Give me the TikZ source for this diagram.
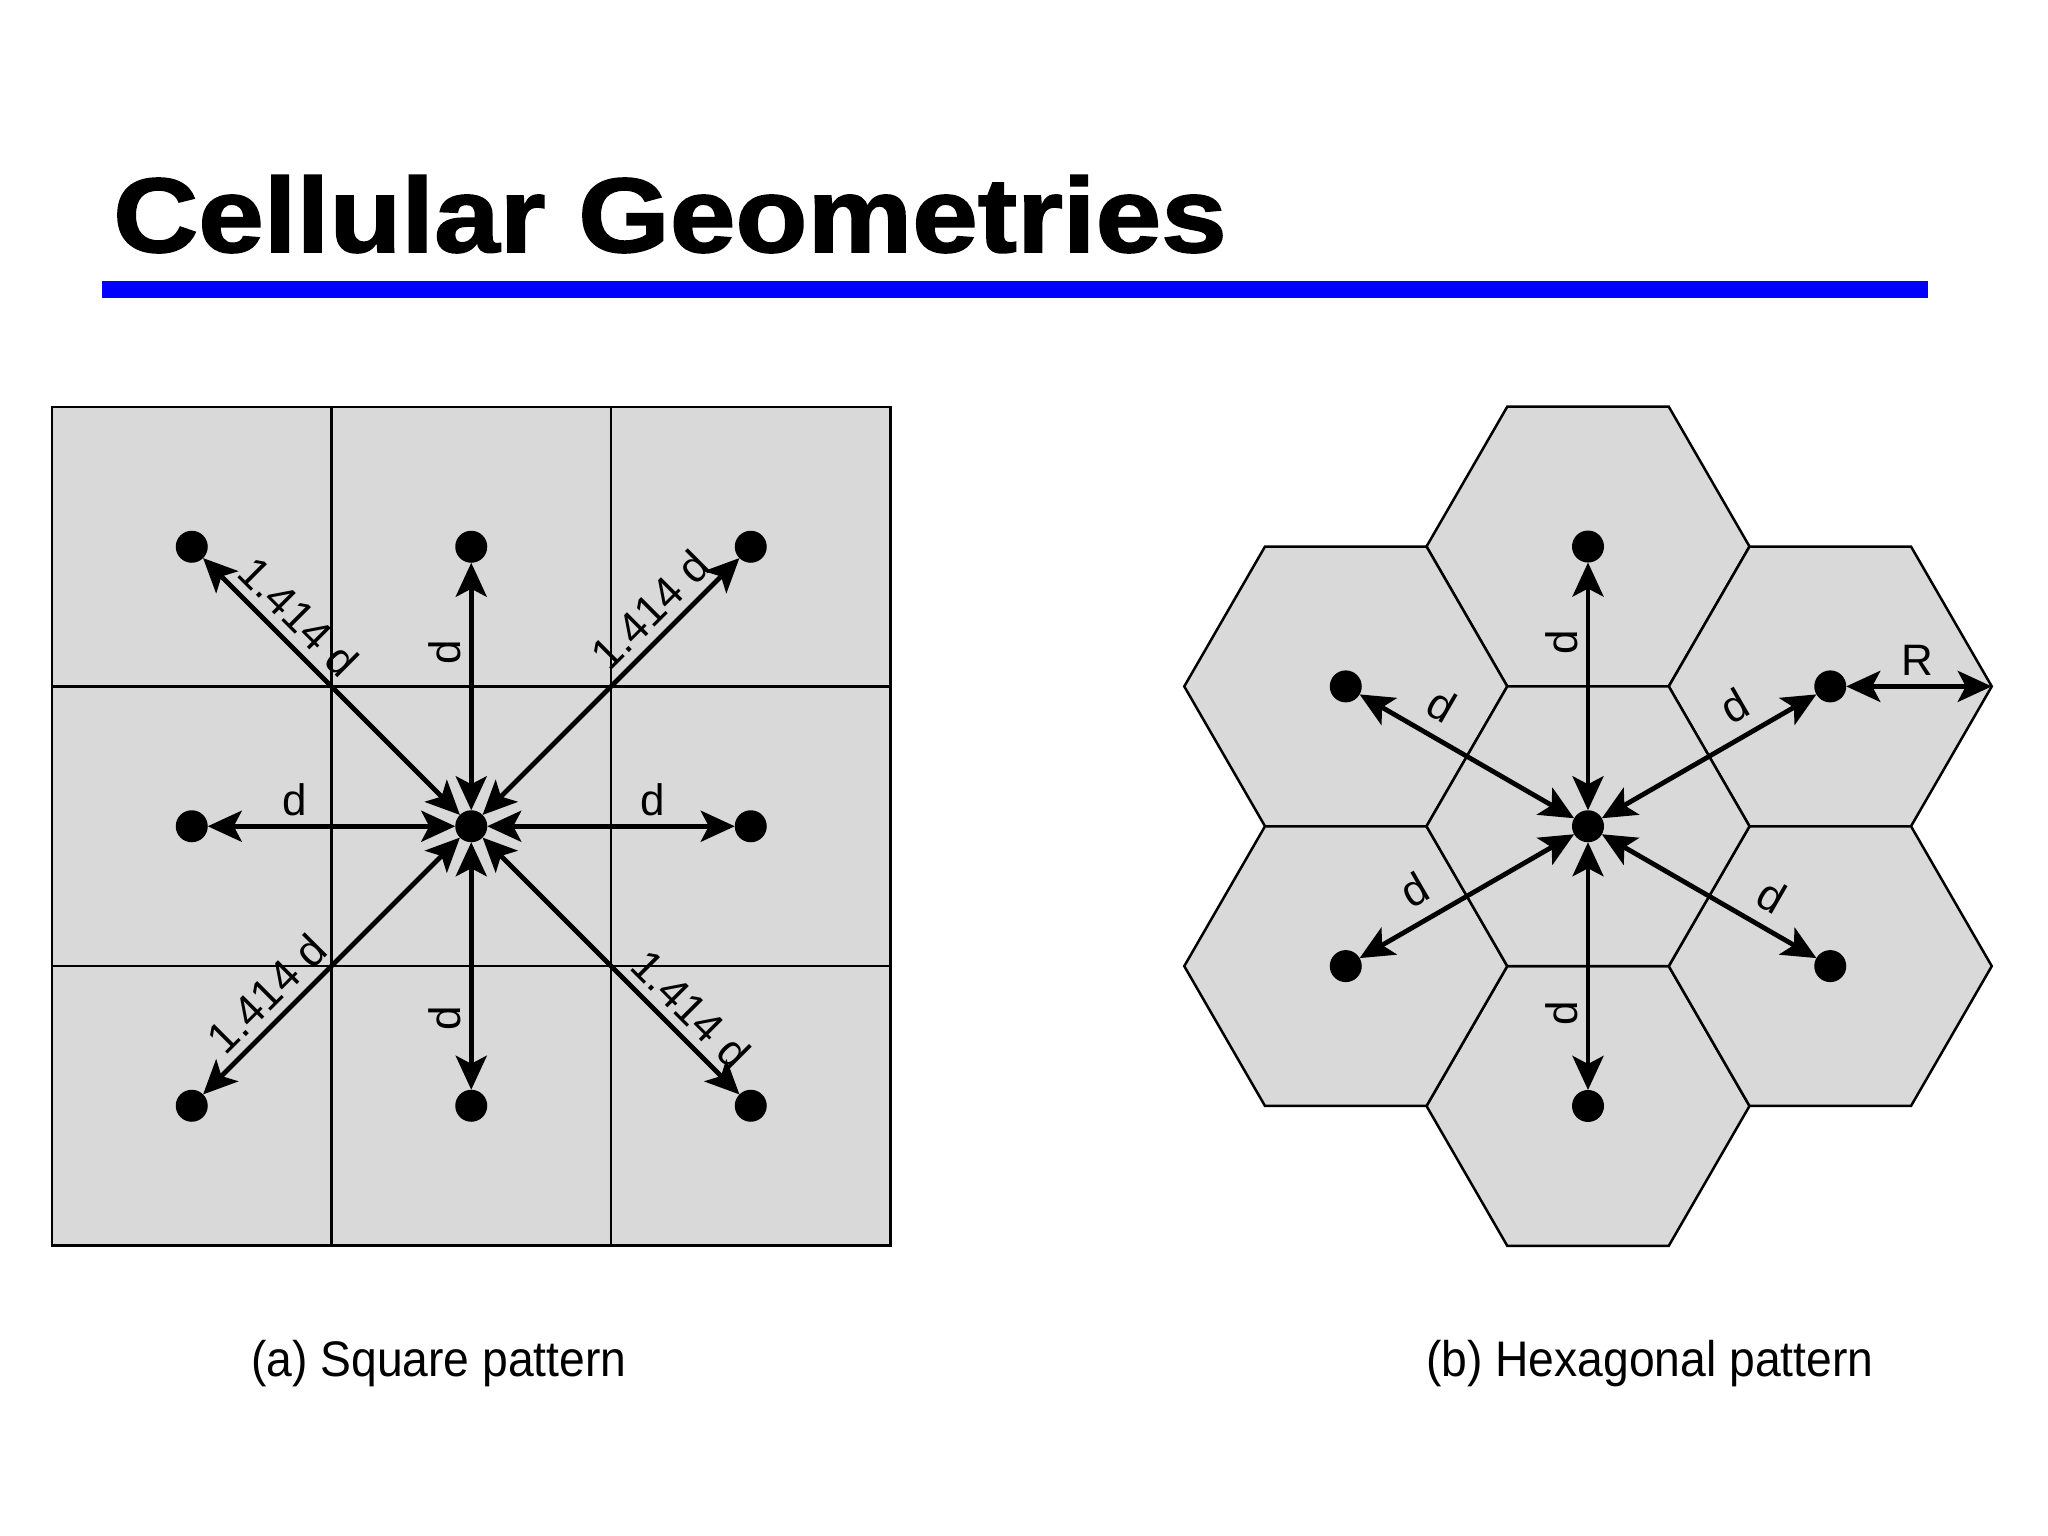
\documentclass[tikz,border=0pt]{standalone}
\usepackage{fontspec}
\setmainfont{Liberation Sans}
\newfontfamily\titlefont[FakeBold=1.5]{Liberation Sans Bold}
\usetikzlibrary{arrows.meta}
\definecolor{cellgray}{RGB}{217,217,217}
\definecolor{barblue}{RGB}{0,0,255}
\begin{document}
\begin{tikzpicture}[x=1pt,y=-1pt,
  cell/.style={fill=cellgray, draw=black, line width=2.5pt},
  gridline/.style={draw=black, line width=2.5pt},
  dot/.style={circle, fill=black, inner sep=0pt, outer sep=0pt, minimum size=32pt},
  arr/.style={{Stealth[length=34pt,width=31pt,inset=8pt]}-{Stealth[length=34pt,width=31pt,inset=8pt]}, line width=4.8pt},
  lbl/.style={font=\fontsize{44}{48}\selectfont, inner sep=8pt},
  hlbl/.style={lbl, inner sep=13pt},
  title/.style={font=\fontsize{106}{120}\titlefont, inner sep=0pt, anchor=base west},
  caption/.style={font=\fontsize{50}{56}\selectfont, inner sep=0pt, anchor=base west}]
\useasboundingbox (0,0) rectangle (2048,1536);

% title
\node[title] (ttl) at (113,252) {\scalebox{1.112}[1]{Cellular Geometries}};
\fill[barblue] (102,281) rectangle (1928,298);

% ---------- square pattern ----------
\fill[cellgray] (52,407) rectangle (890.5,1245.5);
\draw[gridline] (52,407) rectangle (890.5,1245.5);
\foreach \v in {331.5,611} \draw[gridline] (\v,407) -- (\v,1245.5);
\foreach \v in {686.5,966} \draw[gridline] (52,\v) -- (890.5,\v);

\node[dot] (sq-nw) at (191.75,546.75) {};
\node[dot] (sq-n)  at (471.25,546.75) {};
\node[dot] (sq-ne) at (750.75,546.75) {};
\node[dot] (sq-w)  at (191.75,826.25) {};
\node[dot] (sq-c)  at (471.25,826.25) {};
\node[dot] (sq-e)  at (750.75,826.25) {};
\node[dot] (sq-sw) at (191.75,1105.75) {};
\node[dot] (sq-s)  at (471.25,1105.75) {};
\node[dot] (sq-se) at (750.75,1105.75) {};

\draw[arr] (sq-w) -- node[lbl,above,pos=0.35]{d} (sq-c);
\draw[arr] (sq-c) -- node[lbl,above,pos=0.67]{d} (sq-e);
\draw[arr] (sq-c) -- node[lbl,sloped,above,pos=0.64]{d} (sq-n);
\draw[arr] (sq-s) -- node[lbl,sloped,above,pos=0.29]{d} (sq-c);
\draw[arr] (sq-nw) -- node[lbl,sloped,above,pos=0.30]{1.414 d} (sq-c);
\draw[arr] (sq-c) -- node[lbl,sloped,above,pos=0.725]{1.414 d} (sq-ne);
\draw[arr] (sq-sw) -- node[lbl,sloped,above,pos=0.32]{1.414 d} (sq-c);
\draw[arr] (sq-c) -- node[lbl,sloped,above,pos=0.74]{1.414 d} (sq-se);

% ---------- hexagonal pattern ----------
\foreach \cx/\cy in {1588/546.53, 1588/1105.97, 1345.75/686.39, 1830.25/686.39,
                     1345.75/966.11, 1830.25/966.11, 1588/826.25}
  \draw[cell] (\cx+161.5,\cy) -- (\cx+80.75,\cy+139.86) -- (\cx-80.75,\cy+139.86)
    -- (\cx-161.5,\cy) -- (\cx-80.75,\cy-139.86) -- (\cx+80.75,\cy-139.86) -- cycle;

\node[dot] (hx-n)  at (1588,546.53) {};
\node[dot] (hx-s)  at (1588,1105.97) {};
\node[dot] (hx-nw) at (1345.75,686.39) {};
\node[dot] (hx-ne) at (1830.25,686.39) {};
\node[dot] (hx-sw) at (1345.75,966.11) {};
\node[dot] (hx-se) at (1830.25,966.11) {};
\node[dot] (hx-c)  at (1588,826.25) {};
\coordinate (hx-rv) at (1991.75,686.39);

\draw[arr] (hx-c) -- node[lbl,sloped,above,pos=0.68]{d} (hx-n);
\draw[arr] (hx-s) -- node[lbl,sloped,above,pos=0.31]{d} (hx-c);
\draw[arr] (hx-nw) -- node[hlbl,sloped,above,pos=0.31]{d} (hx-c);
\draw[arr] (hx-c) -- node[hlbl,sloped,above,pos=0.69]{d} (hx-ne);
\draw[arr] (hx-sw) -- node[hlbl,sloped,above,pos=0.33]{d} (hx-c);
\draw[arr] (hx-c) -- node[hlbl,sloped,above,pos=0.72]{d} (hx-se);
\draw[arr] (hx-ne) -- node[lbl,above,pos=0.49]{R} (hx-rv);

% captions
\node[caption] (capa) at (251,1376) {\scalebox{0.925}[1]{(a) Square pattern}};
\node[caption] (capb) at (1426,1376) {\scalebox{0.925}[1]{(b) Hexagonal pattern}};
\end{tikzpicture}
\end{document}
